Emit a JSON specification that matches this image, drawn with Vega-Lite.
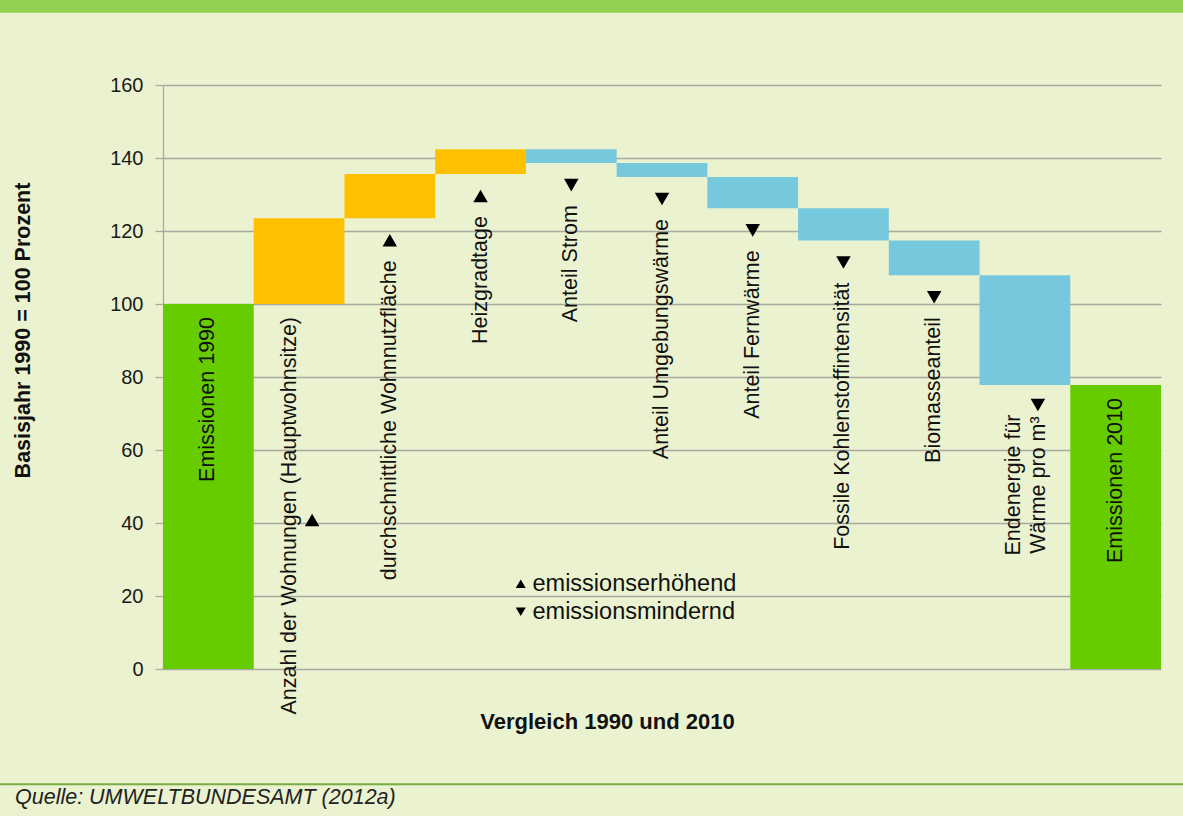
{
  "$schema": "https://vega.github.io/schema/vega-lite/v6.json",
  "width": 1183,
  "height": 816,
  "autosize": {"type": "none"},
  "padding": 0,
  "background": "#ebf2cf",
  "config": {
    "view": {"stroke": null},
    "font": "Liberation Sans",
    "legend": {"symbolFillColor": "#000000", "symbolStrokeWidth": 0, "symbolOpacity": 1}
  },
  "title": {
    "text": "Quelle: UMWELTBUNDESAMT (2012a)",
    "orient": "bottom",
    "anchor": "start",
    "frame": "group",
    "offset": -12,
    "dx": 15,
    "baseline": "alphabetic",
    "font": "Liberation Sans",
    "fontSize": 21.5,
    "fontStyle": "italic",
    "fontWeight": "normal",
    "color": "#222222"
  },
  "datasets": {
    "wasserfall": [
      {"cat": "Emissionen 1990", "low": 0, "high": 100, "art": "Gesamtemissionen"},
      {"cat": "Anzahl der Wohnungen (Hauptwohnsitze)", "low": 100, "high": 123.5, "art": "emissionserhöhend"},
      {"cat": "durchschnittliche Wohnnutzfläche", "low": 123.5, "high": 135.6, "art": "emissionserhöhend"},
      {"cat": "Heizgradtage", "low": 135.6, "high": 142.4, "art": "emissionserhöhend"},
      {"cat": "Anteil Strom", "low": 138.6, "high": 142.4, "art": "emissionsmindernd"},
      {"cat": "Anteil Umgebungswärme", "low": 134.8, "high": 138.6, "art": "emissionsmindernd"},
      {"cat": "Anteil Fernwärme", "low": 126.2, "high": 134.8, "art": "emissionsmindernd"},
      {"cat": "Fossile Kohlenstoffintensität", "low": 117.4, "high": 126.2, "art": "emissionsmindernd"},
      {"cat": "Biomasseanteil", "low": 107.9, "high": 117.4, "art": "emissionsmindernd"},
      {"cat": "Endenergie für Wärme pro m³", "low": 77.8, "high": 107.9, "art": "emissionsmindernd"},
      {"cat": "Emissionen 2010", "low": 0, "high": 77.8, "art": "Gesamtemissionen"}
    ]
  },
  "data": {"name": "wasserfall"},
  "layer": [
    {
      "mark": {"type": "bar"},
      "encoding": {
        "x": {
          "field": "cat", "type": "nominal",
          "scale": {"domain": ["Emissionen 1990", "Anzahl der Wohnungen (Hauptwohnsitze)", "durchschnittliche Wohnnutzfläche", "Heizgradtage", "Anteil Strom", "Anteil Umgebungswärme", "Anteil Fernwärme", "Fossile Kohlenstoffintensität", "Biomasseanteil", "Endenergie für Wärme pro m³", "Emissionen 2010"], "range": [163, 1161], "paddingInner": 0, "paddingOuter": 0},
          "axis": {
            "orient": "bottom", "offset": -147, "labels": false, "ticks": false, "domain": false, "grid": false,
            "title": "Vergleich 1990 und 2010", "titleX": 607, "titleY": 59, "titleAlign": "center", "titleBaseline": "alphabetic",
            "titleFont": "Liberation Sans", "titleFontSize": 22, "titleFontWeight": "bold", "titleColor": "#111111"
          }
        },
        "y": {
          "field": "low", "type": "quantitative",
          "scale": {"domain": [0, 160], "range": [669, 85], "nice": false, "zero": false},
          "axis": {
            "orient": "left", "offset": -163, "values": [0, 20, 40, 60, 80, 100, 120, 140, 160],
            "grid": true, "gridColor": "#a9a9a2", "gridWidth": 1.3,
            "domainColor": "#a9a9a2", "domainWidth": 1.3,
            "tickColor": "#a9a9a2", "tickSize": 8, "tickWidth": 1.3,
            "labelFont": "Liberation Sans", "labelFontSize": 20, "labelColor": "#1a1a1a", "labelPadding": 12,
            "title": "Basisjahr 1990 = 100 Prozent", "titleX": -140, "titleY": 330, "titleAngle": 270,
            "titleAlign": "center", "titleBaseline": "middle",
            "titleFont": "Liberation Sans", "titleFontSize": 21.5, "titleFontWeight": "bold", "titleColor": "#111111"
          }
        },
        "y2": {"field": "high"},
        "color": {
          "field": "art", "type": "nominal",
          "scale": {"domain": ["Gesamtemissionen", "emissionserhöhend", "emissionsmindernd"], "range": ["#66cc00", "#ffc000", "#76c8dd"]},
          "legend": null
        }
      }
    },
    {
      "data": {"values": [{}]},
      "mark": {"type": "rect", "color": "#92d050"},
      "encoding": {
        "y": {"datum": 183.3, "type": "quantitative", "scale": {"domain": [0, 160], "range": [669, 85], "nice": false, "zero": false}},
        "y2": {"datum": 179.8}
      }
    },
    {
      "data": {"values": [{}]},
      "mark": {"type": "rule", "color": "#79ab46", "strokeWidth": 2},
      "encoding": {
        "y": {"datum": -31.6, "type": "quantitative", "scale": {"domain": [0, 160], "range": [669, 85], "nice": false, "zero": false}}
      }
    },
    {
      "transform": [{"filter": {"field": "cat", "oneOf": ["durchschnittliche Wohnnutzfläche", "Heizgradtage", "Anteil Strom", "Anteil Umgebungswärme", "Anteil Fernwärme", "Fossile Kohlenstoffintensität", "Biomasseanteil"]}}],
      "mark": {"type": "text", "angle": 270, "align": "right", "baseline": "middle", "dx": -42, "font": "Liberation Sans", "fontSize": 21.5, "color": "#111111"},
      "encoding": {
        "x": {"field": "cat", "type": "nominal", "scale": {"domain": ["Emissionen 1990", "Anzahl der Wohnungen (Hauptwohnsitze)", "durchschnittliche Wohnnutzfläche", "Heizgradtage", "Anteil Strom", "Anteil Umgebungswärme", "Anteil Fernwärme", "Fossile Kohlenstoffintensität", "Biomasseanteil", "Endenergie für Wärme pro m³", "Emissionen 2010"], "range": [163, 1161], "paddingInner": 0, "paddingOuter": 0}},
        "y": {"field": "low", "type": "quantitative", "scale": {"domain": [0, 160], "range": [669, 85], "nice": false, "zero": false}},
        "text": {"field": "cat"}
      }
    },
    {
      "transform": [{"filter": {"field": "art", "equal": "Gesamtemissionen"}}],
      "mark": {"type": "text", "angle": 270, "align": "right", "baseline": "middle", "dx": -13, "font": "Liberation Sans", "fontSize": 21.5, "color": "#111111"},
      "encoding": {
        "x": {"field": "cat", "type": "nominal", "scale": {"domain": ["Emissionen 1990", "Anzahl der Wohnungen (Hauptwohnsitze)", "durchschnittliche Wohnnutzfläche", "Heizgradtage", "Anteil Strom", "Anteil Umgebungswärme", "Anteil Fernwärme", "Fossile Kohlenstoffintensität", "Biomasseanteil", "Endenergie für Wärme pro m³", "Emissionen 2010"], "range": [163, 1161], "paddingInner": 0, "paddingOuter": 0}},
        "y": {"field": "high", "type": "quantitative", "scale": {"domain": [0, 160], "range": [669, 85], "nice": false, "zero": false}},
        "text": {"field": "cat"}
      }
    },
    {
      "transform": [{"filter": {"field": "cat", "equal": "Anzahl der Wohnungen (Hauptwohnsitze)"}}],
      "mark": {"type": "text", "angle": 270, "align": "right", "baseline": "middle", "dx": -13, "dy": -9, "font": "Liberation Sans", "fontSize": 21.5, "color": "#111111"},
      "encoding": {
        "x": {"field": "cat", "type": "nominal", "scale": {"domain": ["Emissionen 1990", "Anzahl der Wohnungen (Hauptwohnsitze)", "durchschnittliche Wohnnutzfläche", "Heizgradtage", "Anteil Strom", "Anteil Umgebungswärme", "Anteil Fernwärme", "Fossile Kohlenstoffintensität", "Biomasseanteil", "Endenergie für Wärme pro m³", "Emissionen 2010"], "range": [163, 1161], "paddingInner": 0, "paddingOuter": 0}},
        "y": {"field": "low", "type": "quantitative", "scale": {"domain": [0, 160], "range": [669, 85], "nice": false, "zero": false}},
        "text": {"field": "cat"}
      }
    },
    {
      "transform": [{"filter": {"field": "cat", "equal": "Endenergie für Wärme pro m³"}}],
      "mark": {"type": "text", "angle": 270, "align": "center", "baseline": "middle", "dx": -100, "dy": -11, "lineHeight": 25, "font": "Liberation Sans", "fontSize": 21.5, "color": "#111111"},
      "encoding": {
        "x": {"field": "cat", "type": "nominal", "scale": {"domain": ["Emissionen 1990", "Anzahl der Wohnungen (Hauptwohnsitze)", "durchschnittliche Wohnnutzfläche", "Heizgradtage", "Anteil Strom", "Anteil Umgebungswärme", "Anteil Fernwärme", "Fossile Kohlenstoffintensität", "Biomasseanteil", "Endenergie für Wärme pro m³", "Emissionen 2010"], "range": [163, 1161], "paddingInner": 0, "paddingOuter": 0}},
        "y": {"field": "low", "type": "quantitative", "scale": {"domain": [0, 160], "range": [669, 85], "nice": false, "zero": false}},
        "text": {"value": ["Endenergie  für", "Wärme pro m³"]}
      }
    },
    {
      "transform": [{"filter": {"field": "cat", "oneOf": ["durchschnittliche Wohnnutzfläche", "Heizgradtage", "Anteil Strom", "Anteil Umgebungswärme", "Anteil Fernwärme", "Fossile Kohlenstoffintensität", "Biomasseanteil"]}}],
      "mark": {"type": "point", "filled": true, "color": "#000000", "opacity": 1, "size": 210, "yOffset": 22},
      "encoding": {
        "x": {"field": "cat", "type": "nominal", "scale": {"domain": ["Emissionen 1990", "Anzahl der Wohnungen (Hauptwohnsitze)", "durchschnittliche Wohnnutzfläche", "Heizgradtage", "Anteil Strom", "Anteil Umgebungswärme", "Anteil Fernwärme", "Fossile Kohlenstoffintensität", "Biomasseanteil", "Endenergie für Wärme pro m³", "Emissionen 2010"], "range": [163, 1161], "paddingInner": 0, "paddingOuter": 0}},
        "y": {"field": "low", "type": "quantitative", "scale": {"domain": [0, 160], "range": [669, 85], "nice": false, "zero": false}},
        "shape": {
          "field": "art", "type": "nominal",
          "scale": {"domain": ["emissionserhöhend", "emissionsmindernd"], "range": ["triangle-up", "triangle-down"]},
          "legend": {
            "title": null, "orient": "none", "legendX": 509, "legendY": 572, "padding": 0,
            "symbolSize": 100, "symbolFillColor": "#000000", "symbolStrokeWidth": 0,
            "labelFont": "Liberation Sans", "labelFontSize": 23.5, "labelColor": "#111111", "labelOffset": 0, "labelLimit": 0,
            "rowPadding": 3
          }
        }
      }
    },
    {
      "transform": [{"filter": {"field": "cat", "equal": "Anzahl der Wohnungen (Hauptwohnsitze)"}}],
      "mark": {"type": "point", "filled": true, "color": "#000000", "opacity": 1, "size": 210, "xOffset": 13},
      "encoding": {
        "x": {"field": "cat", "type": "nominal", "scale": {"domain": ["Emissionen 1990", "Anzahl der Wohnungen (Hauptwohnsitze)", "durchschnittliche Wohnnutzfläche", "Heizgradtage", "Anteil Strom", "Anteil Umgebungswärme", "Anteil Fernwärme", "Fossile Kohlenstoffintensität", "Biomasseanteil", "Endenergie für Wärme pro m³", "Emissionen 2010"], "range": [163, 1161], "paddingInner": 0, "paddingOuter": 0}},
        "y": {"datum": 40.8, "type": "quantitative", "scale": {"domain": [0, 160], "range": [669, 85], "nice": false, "zero": false}},
        "shape": {"field": "art", "type": "nominal", "scale": {"domain": ["emissionserhöhend", "emissionsmindernd"], "range": ["triangle-up", "triangle-down"]}}
      }
    },
    {
      "transform": [{"filter": {"field": "cat", "equal": "Endenergie für Wärme pro m³"}}],
      "mark": {"type": "point", "filled": true, "color": "#000000", "opacity": 1, "size": 210, "xOffset": 13, "yOffset": 20},
      "encoding": {
        "x": {"field": "cat", "type": "nominal", "scale": {"domain": ["Emissionen 1990", "Anzahl der Wohnungen (Hauptwohnsitze)", "durchschnittliche Wohnnutzfläche", "Heizgradtage", "Anteil Strom", "Anteil Umgebungswärme", "Anteil Fernwärme", "Fossile Kohlenstoffintensität", "Biomasseanteil", "Endenergie für Wärme pro m³", "Emissionen 2010"], "range": [163, 1161], "paddingInner": 0, "paddingOuter": 0}},
        "y": {"field": "low", "type": "quantitative", "scale": {"domain": [0, 160], "range": [669, 85], "nice": false, "zero": false}},
        "shape": {"field": "art", "type": "nominal", "scale": {"domain": ["emissionserhöhend", "emissionsmindernd"], "range": ["triangle-up", "triangle-down"]}}
      }
    }
  ]
}
